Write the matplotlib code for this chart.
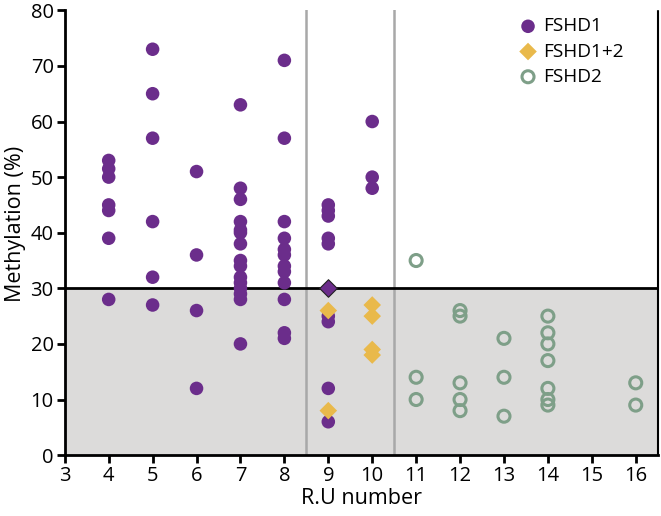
import matplotlib
matplotlib.use("Agg")
import matplotlib.pyplot as plt

plt.rcParams['font.family'] = ['Open Sans', 'DejaVu Sans']

# FSHD1 data (R.U number, methylation %)
fshd1_x = [4]*7 + [5]*6 + [6]*4 + [7]*15 + [8]*12 + [9]*9 + [10]*3
fshd1_y = [53, 51.5, 50, 45, 44, 39, 28,
           73, 65, 57, 42, 32, 27,
           51, 36, 26, 12,
           63, 48, 46, 42, 40.5, 40, 38, 35, 34, 32, 31, 30, 29, 28, 20,
           71, 57, 42, 39, 37, 36, 34, 33, 31, 28, 22, 21,
           45, 44, 43, 39, 38, 25, 24, 12, 6,
           60, 50, 48]
# FSHD1+2 data
fshd12_x = [9, 9, 10, 10, 10, 10]
fshd12_y = [26, 8, 27, 25, 19, 18]
# highlighted sample (purple diamond)
hl_x = [9]
hl_y = [30]
# FSHD2 data
fshd2_x = [11]*3 + [12]*5 + [13]*3 + [14]*7 + [16]*2
fshd2_y = [35, 14, 10,
           26, 25, 13, 10, 8,
           21, 14, 7,
           25, 22, 20, 17, 12, 10, 9,
           13, 9]

threshold = 30
xticks = list(range(3, 17))
yticks = list(range(0, 81, 10))

purple = '#6b2d8b'
yellow = '#e9b94b'
green = '#7e9f88'
grayfill = '#dcdbda'

fig = plt.figure(figsize=(6.61, 5.16), dpi=100)
ax = fig.add_axes([0.098, 0.118, 0.897, 0.862])

ax.axhspan(0, threshold, color=grayfill, zorder=0, lw=0)
ax.axvline(8.5, color='#a8a8a8', lw=1.8, zorder=1)
ax.axvline(10.5, color='#a8a8a8', lw=1.8, zorder=1)
ax.axhline(threshold, color='black', lw=2, zorder=2)

ax.scatter(fshd1_x, fshd1_y, s=95, marker='o', color=purple, edgecolors='none', zorder=3, label='FSHD1')
ax.scatter(fshd12_x, fshd12_y, s=80, marker='D', color=yellow, edgecolors='none', zorder=3, label='FSHD1+2')
ax.scatter(hl_x, hl_y, s=80, marker='D', color=purple, edgecolors='#222222', linewidths=0.8, zorder=4)
ax.scatter(fshd2_x, fshd2_y, s=75, marker='o', facecolors='none', edgecolors=green, linewidths=2.2, zorder=3, label='FSHD2')

ax.set_xlim(3, 16.5)
ax.set_ylim(0, 80)
ax.set_xticks(xticks)
ax.set_yticks(yticks)
ax.tick_params(axis='both', direction='out', length=6, width=2, labelsize=14.5, color='black', pad=2)

for s in ['left', 'bottom']:
    ax.spines[s].set_linewidth(2)
ax.spines['top'].set_visible(False)
ax.spines['right'].set_linestyle((0, (1, 1)))
ax.spines['right'].set_linewidth(1.5)

ax.set_xlabel('R.U number', fontsize=15.5, labelpad=1)
ax.set_ylabel('Methylation (%)', fontsize=15.5)
ax.yaxis.set_label_coords(-0.066, 0.52)

leg = ax.legend(loc='upper right', bbox_to_anchor=(0.962, 1.01), frameon=False, fontsize=13.7,
                handletextpad=0.2, borderaxespad=0.2, labelspacing=0.38, handlelength=1.2)

fig.savefig('out.png', dpi=100)
